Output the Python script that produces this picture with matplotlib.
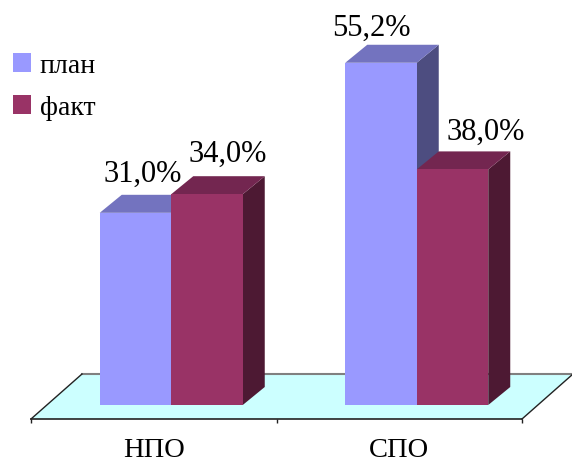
import matplotlib
matplotlib.use("Agg")
import matplotlib.pyplot as plt
from matplotlib.patches import Polygon, Patch
from matplotlib.transforms import Affine2D

categories = ["НПО", "СПО"]
plan = [31.0, 55.2]
fact = [34.0, 38.0]
series_names = ["план", "факт"]

W, H = 572, 464
plt.rcParams["font.family"] = ["Liberation Serif", "DejaVu Serif"]
fig = plt.figure(figsize=(W / 100, H / 100), dpi=100)
ax = fig.add_axes([31 / W, 44 / H, 491 / W, 420 / H])
ax.set_xlim(0, 2)
ax.set_ylim(0, 420 / 6.2)
ax.patch.set_alpha(0)

BAR_OFF = (17.5, 14)
BAR_W = 71.5 / 245.5
DEPTH = (22, 18)
FLOOR = (51, 45)
COLORS = [("#9999FF", "#7373BF", "#4D4D80"), ("#993366", "#732650", "#4D1933")]
LABEL_OFF = [[(7, 39), (21, 41)], [(-10, 35), (33, 38)]]


def off(dx, dy):
    return ax.transData + Affine2D().translate(dx, dy)


def poly(pts, tr, **kw):
    ax.add_patch(Polygon(pts, closed=True, transform=tr, clip_on=False, **kw))


# floor
base = ax.transData.transform([(0, 0), (2, 0)])
fl = [base[0], base[1], base[1] + FLOOR, base[0] + FLOOR]
ax.add_patch(Polygon(fl, closed=True, transform=None, fc="#CCFFFF", ec="none", clip_on=False, zorder=1))
ax.plot([fl[3][0], fl[2][0]], [fl[3][1], fl[2][1]], transform=None, color="#808080", lw=1.5, clip_on=False, zorder=1.1)
ax.plot([fl[0][0], fl[3][0]], [fl[0][1], fl[3][1]], transform=None, color="#222222", lw=1, clip_on=False, zorder=1.1)
ax.plot([fl[1][0], fl[2][0]], [fl[1][1], fl[2][1]], transform=None, color="#222222", lw=1, clip_on=False, zorder=1.1)

tr = off(*BAR_OFF)
dx_d = DEPTH[0] / 245.5
dy_d = DEPTH[1] / 6.2
z = 2
for g in range(len(categories)):
    c = g + 0.5
    for s, vals in enumerate([plan, fact]):
        v = vals[g]
        l = c + (s - 1) * BAR_W
        r = l + BAR_W
        front, top, side = COLORS[s]
        poly([(r, 0), (r + dx_d, dy_d), (r + dx_d, v + dy_d), (r, v)], tr, fc=side, ec="none", zorder=z)
        poly([(l, v), (r, v), (r + dx_d, v + dy_d), (l + dx_d, v + dy_d)], tr, fc=top, ec="none", zorder=z)
        ax.bar(l, v, width=BAR_W, align="edge", color=front, transform=tr, clip_on=False, zorder=z + 0.5)
        z += 1
        ax.annotate(f"{v:.1f}%".replace(".", ","), xy=(l + BAR_W / 2, v), xycoords=tr,
                    xytext=LABEL_OFF[g][s], textcoords="offset pixels", ha="center", va="center",
                    fontsize=22, color="#000000", zorder=50)

for sp in ["left", "right", "top"]:
    ax.spines[sp].set_visible(False)
ax.spines["bottom"].set_color("#222222")
ax.spines["bottom"].set_linewidth(1.2)
ax.spines["bottom"].set_zorder(1.2)
ax.set_yticks([])
ax.set_xticks([0, 1, 2])
ax.set_xticklabels([])
ax.set_xticks([0.5, 1.5], minor=True)
ax.set_xticklabels(categories, minor=True, fontsize=20.5)
ax.tick_params(axis="x", which="major", length=3, width=1, color="#222222")
ax.tick_params(axis="x", which="minor", length=0, pad=13)

handles = [Patch(fc=COLORS[i][0], ec="none") for i in range(2)]
fig.legend(handles, series_names, loc="upper left", bbox_to_anchor=(7 / W, 1 - 48 / H),
           frameon=False, fontsize=20, handlelength=0.68, handleheight=0.68, handletextpad=0.3,
           labelspacing=0.62, borderpad=0.2, borderaxespad=0)

fig.savefig("out.png", dpi=100)
